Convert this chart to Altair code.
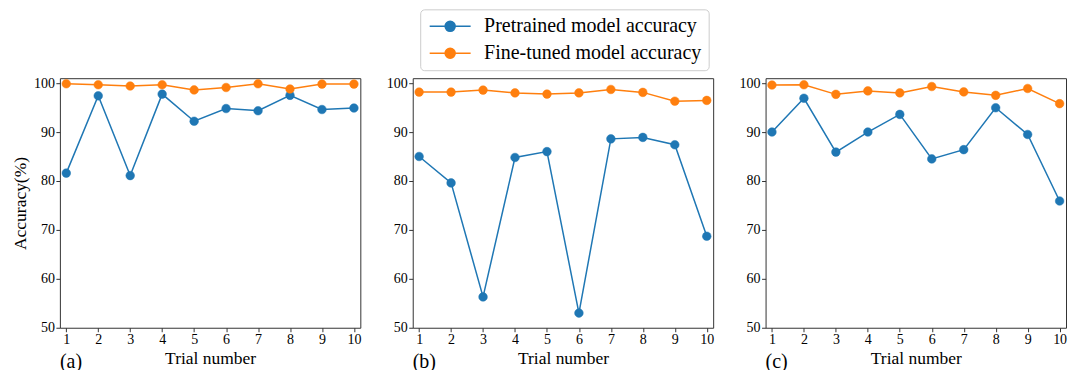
import altair as alt
import pandas as pd

trials = list(range(1, 11))
series_names = ["Pretrained model accuracy", "Fine-tuned model accuracy"]
panel_labels = ["(a)", "(b)", "(c)"]
y_ticks = [50, 60, 70, 80, 90, 100]

pre_a = [81.6, 97.4, 81.1, 97.75, 92.2, 94.8, 94.35, 97.5, 94.6, 94.9]
fine_a = [99.86, 99.66, 99.4, 99.66, 98.6, 99.1, 99.86, 98.8, 99.8, 99.8]
pre_b = [85.0, 79.6, 56.3, 84.8, 86.0, 53.0, 88.6, 88.9, 87.4, 68.7]
fine_b = [98.16, 98.16, 98.57, 98.0, 97.75, 98.0, 98.7, 98.1, 96.3, 96.46]
pre_c = [90.0, 96.9, 85.9, 90.0, 93.6, 84.5, 86.4, 94.96, 89.5, 75.9]
fine_c = [99.6, 99.66, 97.7, 98.4, 98.0, 99.3, 98.2, 97.5, 98.9, 95.8]

colors = ["#1f77b4", "#ff7f0e"]
FONT = "Liberation Serif"

sym_path = ("M-2.93,0L2.93,0M0.72,0A0.72,0.72,0,1,1,-0.72,0"
            "A0.72,0.72,0,1,1,0.72,0Z")

leg = alt.Legend(
    orient="none", legendX=361, legendY=-69, title=None,
    symbolType=sym_path, symbolSize=196, symbolStrokeWidth=1.5,
    symbolOffset=13, symbolOpacity=1,
    labelFont=FONT, labelFontSize=20, labelColor="black", labelLimit=400,
    labelOffset=24, strokeColor="#cccccc", fillColor="white",
    cornerRadius=4, padding=7, rowPadding=7,
)
cscale = alt.Scale(domain=series_names, range=colors)

axis_style = dict(
    labelFont=FONT, labelFontSize=14, labelColor="black",
    titleFont=FONT, titleFontSize=17.5, titleFontWeight="normal", titleColor="black",
    tickColor="#333333", tickSize=4, domain=False, grid=False,
)


def panel(pre, fine, label, show_title):
    df = pd.DataFrame({
        "trial": trials + trials,
        "series": [series_names[0]] * len(trials) + [series_names[1]] * len(trials),
        "acc": pre + fine,
    })
    x = alt.X("trial:Q",
              scale=alt.Scale(domain=[0.8, 10.2], nice=False, zero=False),
              axis=alt.Axis(values=trials, title="Trial number", format="d",
                            labelPadding=1, titlePadding=3, **axis_style))
    if show_title:
        yax = alt.Axis(values=y_ticks, title="Accuracy(%)", labelPadding=1.5,
                       titlePadding=4, **axis_style)
    else:
        yax = alt.Axis(values=y_ticks, title=None, labelPadding=1.5, **axis_style)
    y = alt.Y("acc:Q", scale=alt.Scale(domain=[50, 101], nice=False, zero=False),
              axis=yax)
    base = alt.Chart(df)
    line = base.mark_line(strokeWidth=1.5).encode(
        x=x, y=y,
        stroke=alt.Stroke("series:N", scale=cscale, legend=leg, sort=series_names),
    )
    pts = base.mark_point(filled=True, size=75, opacity=1, strokeWidth=0.5).encode(
        x=x, y=y,
        fill=alt.Fill("series:N", scale=cscale, legend=leg, sort=series_names),
        stroke=alt.Stroke("series:N", scale=cscale, legend=leg, sort=series_names),
    )
    txt = alt.Chart(pd.DataFrame({"label": [label]})).mark_text(
        align="left", baseline="middle", font=FONT, fontSize=20, color="black"
    ).encode(x=alt.value(0), y=alt.value(284), text="label:N")
    return alt.layer(line, pts, txt).properties(width=301, height=250)


chart = alt.hconcat(
    panel(pre_a, fine_a, panel_labels[0], True),
    panel(pre_b, fine_b, panel_labels[1], False),
    panel(pre_c, fine_c, panel_labels[2], False),
    spacing=52.5, bounds="flush",
).configure(
    font=FONT,
    style={"guide-label": {"font": FONT}, "guide-title": {"font": FONT}},
).configure_axis(
    labelFont=FONT, titleFont=FONT
).configure_view(
    stroke="#333333", strokeWidth=1
).properties(
    padding={"left": 11, "top": 8, "right": 0, "bottom": 0},
    background="white",
)

chart.save("out.html", embed_options={"renderer": "svg", "actions": False})
